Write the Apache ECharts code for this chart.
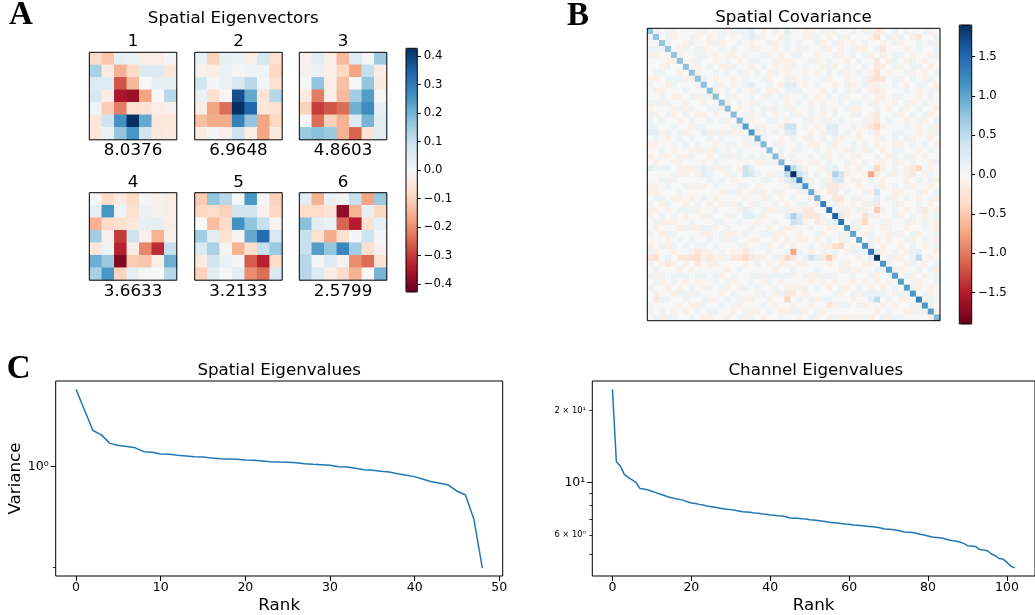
<!DOCTYPE html>
<html>
<head>
<meta charset="UTF-8">
<title>Spatial / channel eigen structure</title>
<script src="https://cdn.jsdelivr.net/npm/echarts@6.0.0/dist/echarts.min.js"></script>
<style>
  html, body { margin: 0; padding: 0; background: #fff; }
  #chart { width: 1035px; height: 615px; }
</style>
</head>
<body>
<div id="chart"></div>
<script>
// ---- data ----

// panel A: first six spatial eigenvectors (7x7, row 0 = top row)
var eigVec1 = [
  [-0.08, -0.12,  0.04,  0.03, -0.03, -0.03,  0.01],
  [ 0.14, -0.04, -0.15, -0.08,  0.06,  0.06, -0.05],
  [ 0.06,  0.06, -0.27, -0.14,  0.00,  0.04,  0.04],
  [ 0.07, -0.03, -0.35, -0.37, -0.17,  0.00,  0.12],
  [ 0.02, -0.11, -0.22, -0.07, -0.06, -0.03, -0.02],
  [-0.05,  0.09,  0.26,  0.43,  0.22, -0.05, -0.05],
  [-0.05,  0.03,  0.17,  0.25,  0.08, -0.05, -0.04]
];
var eigVec2 = [
  [ 0.03, -0.10,  0.04,  0.03, -0.03,  0.07, -0.07],
  [-0.02, -0.03,  0.03,  0.01,  0.02,  0.02, -0.09],
  [ 0.08,  0.01,  0.03,  0.07,  0.12,  0.01, -0.07],
  [ 0.03, -0.07, -0.01,  0.38,  0.22, -0.06,  0.12],
  [-0.03, -0.17, -0.24,  0.43,  0.34, -0.05, -0.07],
  [-0.13, -0.16, -0.16,  0.29,  0.17, -0.17, -0.09],
  [-0.03,  0.01, -0.03,  0.09, -0.03, -0.17, -0.04]
];
var eigVec3 = [
  [-0.02,  0.05, -0.03, -0.14,  0.06,  0.01,  0.16],
  [-0.02,  0.03, -0.03, -0.09, -0.17,  0.10, -0.03],
  [ 0.01,  0.17, -0.03, -0.13,  0.00,  0.17, -0.04],
  [-0.04, -0.22, -0.03, -0.14,  0.15,  0.24,  0.01],
  [-0.10, -0.30, -0.27, -0.24,  0.21,  0.27,  0.04],
  [ 0.01, -0.24, -0.10, -0.15,  0.06,  0.20,  0.05],
  [ 0.16,  0.18,  0.16, -0.15, -0.25, -0.06,  0.05]
];
var eigVec4 = [
  [ 0.01, -0.08, -0.04, -0.08,  0.01, -0.02, -0.03],
  [ 0.04,  0.25,  0.02, -0.07,  0.03, -0.02, -0.03],
  [-0.15, -0.08, -0.07, -0.05,  0.04,  0.04, -0.03],
  [ 0.15, -0.02, -0.30,  0.09, -0.02, -0.15, -0.02],
  [-0.05,  0.02, -0.33, -0.03, -0.21, -0.32,  0.10],
  [ 0.21,  0.16, -0.40, -0.11, -0.12, -0.03,  0.21],
  [ 0.14,  0.25, -0.10,  0.04,  0.01,  0.00,  0.12]
];
var eigVec5 = [
  [-0.11,  0.17,  0.12,  0.01,  0.25,  0.01, -0.10],
  [-0.09, -0.08, -0.10,  0.08,  0.08, -0.02, -0.09],
  [ 0.00, -0.13, -0.08,  0.26,  0.17,  0.10, -0.01],
  [ 0.15,  0.05, -0.07, -0.01,  0.22,  0.33,  0.07],
  [ 0.06,  0.14, -0.01, -0.15, -0.07,  0.10,  0.16],
  [-0.04,  0.08,  0.03,  0.01, -0.26, -0.33, -0.08],
  [-0.10,  0.05,  0.01,  0.05, -0.20, -0.24,  0.07]
];
var eigVec6 = [
  [ 0.05, -0.15,  0.03,  0.02,  0.10, -0.17,  0.16],
  [-0.08, -0.08, -0.06, -0.38, -0.15,  0.04, -0.09],
  [ 0.18,  0.05,  0.03, -0.25, -0.34, -0.07,  0.04],
  [ 0.10, -0.07, -0.16, -0.07,  0.01,  0.09,  0.01],
  [ 0.10,  0.24,  0.17,  0.28,  0.15, -0.07, -0.02],
  [ 0.12,  0.01,  0.06, -0.02, -0.20, -0.24, -0.06],
  [ 0.12,  0.06, -0.03, -0.08, -0.15,  0.00,  0.20]
];
var eigTitles = ['1', '2', '3', '4', '5', '6'];
var eigNumbers = ['8.0376', '6.9648', '4.8603', '3.6633', '3.2133', '2.5799'];
var eigRange = 0.428;
var eigTicks = [-0.4, -0.3, -0.2, -0.1, 0, 0.1, 0.2, 0.3, 0.4];

// panel B: 49x49 spatial covariance.
// diagonal kept apart; off-diagonal as codes, upper triangle ('_' = mirrored, '*' = diagonal)
var covRange = 1.9;
var covTicks = [-1.5, -1, -0.5, 0, 0.5, 1, 1.5];
var covDiag = [
  0.75, 0.75, 0.75, 0.75, 0.75, 0.78, 0.78, 0.78, 0.78, 0.8, 0.8, 0.8, 0.8, 0.8, 0.82, 0.85,
  1.05, 1.1, 0.95, 0.85, 0.82, 0.82, 0.85, 1.45, 1.9, 1.3, 1.1, 0.95, 0.9, 1.3, 1.4, 1.55,
  1.4, 1.1, 1.0, 1.0, 1.1, 1.35, 1.9, 1.1, 1.05, 1.05, 1.05, 1.05, 1.1, 1.3, 1.1, 1.05, 0.85
];
var covCode = {
  '.': 0, 'a': 0.1, 'b': 0.2, 'c': 0.3, 'd': 0.4, 'e': 0.5, 'f': 0.6,
  'A': -0.1, 'B': -0.2, 'C': -0.3, 'D': -0.4, 'E': -0.5, 'F': -0.6, 'G': -0.75
};
var covUpper = [
  '*a.aA.. .Aa..aA aaab.A. A.b..AA .aAA..a .AaBA.a .a..aA.',
  '_*.aA.. aA.A.a. A.abaA. .Aa..AA a.A.aA. ..AC.aA a.AB..a',
  '__*a..A a..AaA. .a.A..a A.a.a.. aA.aA.A .a..A.a A..a.aA',
  '___*.Aa .aA..a. a..aA.. A.a.Aa. .aA.A.a AA.aB.. .A.a..a',
  '____*A. .aa.A.A A.a..aA .A.aa.. A..aA.a .aA.A.a a.A..Aa',
  '_____*. Aa..A.a .A.aa.. AAAA..a A.a..A. a..B.Aa .Aa.A..',
  '______* .A.a.AA a..A.a. A.AA.a. .AaA.a. .a.BA.a A.aa.A.',
  '_______ *A..a.a .aA.a.A a.A..A. A.a.aA. a.AC.A. .aA.A.a',
  '_______ _*a.A.. A.a..aA ..aA.a. .aA..A. .aBCB.a A.a.Aa.',
  '_______ __*.aA. A.ab..a .Abb.A. a..A.aA .aAA..a .A.aa.A',
  '_______ ___*A.a .a.Aa.A A.aaa.. .A.a.aA a.ABA.. .a.A.aA',
  '_______ ____*.a A..a.Aa .aA..a. A.a.aA. .a.AA.a a..A.a.',
  '_______ _____*A .a.Aa.. a.A.a.A .A..a.a a.aA..A .aA.a..',
  '_______ ______* .A.a.aA a.aA..a .a.A.aA A..a.A. aA.a..A',
  '_______ _______ *.aA.a. A..aA.a .A.a..A a.AB..a A.a.aA.',
  '_______ _______ _*aA..a a.A..aA .aA.a.. .aAB.a. .A.aA.a',
  '_______ _______ __*.aA. .Add.a. A.bb..a .ABDA.. .a.A.aA',
  '_______ _______ ___*Aa. a.bc..A .Aab.a. A.aB..a a..A.Aa',
  '_______ _______ ____*a. .A.a.Aa .a.aA.. A..Aa.a .aA..A.',
  '_______ _______ _____*. aA..a.A A.aA..a .a.A..A A.a.a.A',
  '_______ _______ ______* .a.Aa.. a.A..Aa .Aa.A.a a..A.a.',
  '_______ _______ _______ *A.a..a .aA.a.A A..a.Aa .aA.A..',
  '_______ _______ _______ _*.aA.A A.a..aA .a.AA.a A.a..Aa',
  '_______ _______ _______ __*ebA. .Aab.A. A.aDA.a .ABD.A.',
  '_______ _______ _______ ___*db. a.AfdA. .AGB.aA .AB.Aa.',
  '_______ _______ _______ ____*bA .aAcc.A A.a.A.. .A.a.aA',
  '_______ _______ _______ _____*a .aBBA.. A..aA.a .aA..A.',
  '_______ _______ _______ ______* A.BB.a. .aAd..A A..aA.a',
  '_______ _______ _______ _______ *A.BB.a A..b.aA .a.A.aA',
  '_______ _______ _______ _______ _*.aA.A .AaB..a A..a.A.',
  '_______ _______ _______ _______ __*.aA. aA.EA.a .A.aB.A',
  '_______ _______ _______ _______ ___*bA. .CaA..a A.a.A.a',
  '_______ _______ _______ _______ ____*.a AD..aA. .aA.a.A',
  '_______ _______ _______ _______ _____*A a.A.Aa. .A..a.A',
  '_______ _______ _______ _______ ______* .Aa..Aa A.aA..a',
  '_______ _______ _______ _______ _______ *.aA.A. .aA.a.A',
  '_______ _______ _______ _______ _______ _*a.A.. A.a.A.a',
  '_______ _______ _______ _______ _______ __*bA.a .Aab..A',
  '_______ _______ _______ _______ _______ ___*.aA A.ae.A.',
  '_______ _______ _______ _______ _______ ____*a. .Aa.A.a',
  '_______ _______ _______ _______ _______ _____*a A..a.aA',
  '_______ _______ _______ _______ _______ ______* .aA.A.a',
  '_______ _______ _______ _______ _______ _______ *.aA..a',
  '_______ _______ _______ _______ _______ _______ _*aA.A.',
  '_______ _______ _______ _______ _______ _______ __*.aA.',
  '_______ _______ _______ _______ _______ _______ ___*Aa.',
  '_______ _______ _______ _______ _______ _______ ____*a.',
  '_______ _______ _______ _______ _______ _______ _____*A',
  '_______ _______ _______ _______ _______ _______ ______*'
];

// panel C: eigenvalue spectra (log y)
var spatialEig = [
  3.43, 2.47, 1.78, 1.66, 1.45, 1.40, 1.38, 1.35, 1.27, 1.257,
  1.224, 1.218, 1.198, 1.186, 1.173, 1.167, 1.148, 1.136, 1.130, 1.124,
  1.112, 1.106, 1.095, 1.083, 1.077, 1.072, 1.066, 1.049, 1.038, 1.032,
  1.021, 1.0, 0.995, 0.974, 0.953, 0.943, 0.928, 0.918, 0.894, 0.871,
  0.853, 0.817, 0.787, 0.767, 0.746, 0.678, 0.636, 0.432, 0.198
];
var channelEig = [
  24.6, 12.21, 11.71, 10.80, 10.49, 10.23, 9.97, 9.41, 9.38, 9.29,
  9.17, 9.05, 8.93, 8.82, 8.70, 8.62, 8.54, 8.48, 8.40, 8.29,
  8.19, 8.14, 8.08, 8.03, 7.95, 7.90, 7.85, 7.80, 7.75, 7.70,
  7.68, 7.63, 7.58, 7.53, 7.51, 7.48, 7.43, 7.41, 7.36, 7.34,
  7.29, 7.27, 7.24, 7.22, 7.17, 7.08, 7.06, 7.06, 7.03, 7.01,
  6.97, 6.95, 6.92, 6.88, 6.84, 6.79, 6.77, 6.75, 6.71, 6.68,
  6.66, 6.62, 6.60, 6.58, 6.55, 6.53, 6.51, 6.47, 6.43, 6.37,
  6.35, 6.33, 6.29, 6.25, 6.19, 6.17, 6.15, 6.11, 6.05, 6.01,
  5.95, 5.89, 5.87, 5.85, 5.81, 5.74, 5.70, 5.67, 5.61, 5.54,
  5.42, 5.40, 5.38, 5.23, 5.19, 5.16, 5.01, 4.92, 4.79, 4.76,
  4.61, 4.44, 4.37
];
var spatialXTicks = [0, 10, 20, 30, 40, 50];
var channelXTicks = [0, 20, 40, 60, 80, 100];
var spatialYMajor = [1];
var spatialYMinor = [0.2];
var spatialYLabels = {'1': '10\u2070'};
var channelYMajor = [10];
var channelYMinor = [5, 6, 7, 8, 9, 20];
var channelYMinorLabeled = [6, 20];
var channelYLabels = {'10': '10\u00b9', '6': '6 \u00d7 10\u2070', '20': '2 \u00d7 10\u00b9'};

// ---- build the option ----
var FONT = '"DejaVu Sans", sans-serif';
var rdbu = ['#67001f', '#b2182b', '#d6604d', '#f4a582', '#fddbc7', '#f7f7f7',
            '#d1e5f0', '#92c5de', '#4393c3', '#2166ac', '#053061'];
var blue = '#1f77b4';

var grids = [], xAxes = [], yAxes = [], series = [], texts = [];

function framedGrid(left, top, width, height) {
  grids.push({left: left, top: top, width: width, height: height, show: true, z: 10,
    backgroundColor: 'transparent', borderColor: '#000', borderWidth: 1});
  return grids.length - 1;
}

function addText(str, x, y, size, family, weight, align) {
  texts.push({type: 'text', x: x, y: y, silent: true, style: {
    text: str, fontSize: size, fontFamily: family || FONT, fontWeight: weight || 'normal',
    fill: '#000', align: align || 'center', textAlign: align || 'center',
    verticalAlign: 'middle', textVerticalAlign: 'middle'}});
}

function fmt1(v) {
  var s = Math.abs(v).toFixed(1);
  return v < -1e-9 ? '\u2212' + s : s;
}

function heatmap(gi, n, data) {
  var idx = [];
  for (var i = 0; i < n; i++) idx.push(i);
  xAxes.push({gridIndex: gi, type: 'category', data: idx, show: false});
  yAxes.push({gridIndex: gi, type: 'category', data: idx, inverse: true, show: false});
  series.push({type: 'heatmap', xAxisIndex: xAxes.length - 1, yAxisIndex: yAxes.length - 1,
    data: data, silent: true, progressive: 0});
}

function colorbar(left, top, width, height, range, ticks) {
  var gi = framedGrid(left, top, width, height);
  xAxes.push({gridIndex: gi, type: 'value', min: 0, max: 1, show: false});
  yAxes.push({gridIndex: gi, type: 'value', min: -range, max: range, position: 'right',
    axisLine: {show: false, onZero: false}, splitLine: {show: false},
    axisTick: {show: true, customValues: ticks, length: 3.5, lineStyle: {color: '#000', width: 1}},
    axisLabel: {customValues: ticks, margin: 6.5, fontSize: 11.7, color: '#000',
      fontFamily: FONT, formatter: fmt1}});
}

// panel A
var eigVecs = [eigVec1, eigVec2, eigVec3, eigVec4, eigVec5, eigVec6];
var eigLeft = [89.3, 194.7, 299.3], eigTop = [52.3, 192.7], eigSide = 87.5;
var eigSeries = [];
eigVecs.forEach(function (m, k) {
  var left = eigLeft[k % 3], top = eigTop[Math.floor(k / 3)];
  var gi = framedGrid(left, top, eigSide, eigSide);
  var data = [];
  m.forEach(function (row, r) {
    row.forEach(function (v, c) { data.push([c, r, v]); });
  });
  heatmap(gi, 7, data);
  eigSeries.push(series.length - 1);
  addText(eigTitles[k], left + eigSide / 2, top - 10.5, 16.7);
  addText(eigNumbers[k], left + eigSide / 2, top + eigSide + 11, 16.7);
});
colorbar(406, 48.3, 11.3, 243.7, eigRange, eigTicks);
addText('Spatial Eigenvectors', 233.3, 18.3, 16.7);
addText('A', 9, 15.5, 33, '"Liberation Serif", serif', 'bold', 'left');

// panel B
var covRows = covUpper.map(function (r) { return r.replace(/ /g, ''); });
var covData = [];
for (var i = 0; i < covDiag.length; i++) {
  for (var j = 0; j < covDiag.length; j++) {
    var v = i === j ? covDiag[i]
      : covCode[i < j ? covRows[i].charAt(j) : covRows[j].charAt(i)];
    covData.push([j, i, v]);
  }
}
var covGrid = framedGrid(647.3, 28.3, 292.7, 292.4);
heatmap(covGrid, covDiag.length, covData);
var covSeries = series.length - 1;
colorbar(959.3, 25, 12.4, 299, covRange, covTicks);
addText('Spatial Covariance', 793.5, 17.5, 16.7);
addText('B', 567, 16, 33, '"Liberation Serif", serif', 'bold', 'left');

// panel C
function logLabel(map) {
  return function (v) {
    var key = String(Math.round(v * 1000) / 1000);
    return map[key] || '';
  };
}

function spectrum(left, width, xMin, xMax, xTicks, yMin, yMax, major, minor, minorLabeled,
                  labels, values, yName) {
  var gi = framedGrid(left, 381, width, 195);
  var tickStyle = {color: '#000', width: 1};
  xAxes.push({gridIndex: gi, type: 'value', min: xMin, max: xMax,
    axisLine: {show: false, onZero: false}, splitLine: {show: false},
    axisTick: {customValues: xTicks, length: 5, lineStyle: tickStyle},
    axisLabel: {customValues: xTicks, margin: 5, fontSize: 12.5, color: '#000', fontFamily: FONT},
    name: 'Rank', nameLocation: 'middle', nameGap: 21,
    nameTextStyle: {fontSize: 16.7, color: '#000', fontFamily: FONT}});
  var xi = xAxes.length - 1;
  yAxes.push({gridIndex: gi, type: 'log', min: yMin, max: yMax, position: 'left',
    axisLine: {show: false, onZero: false}, splitLine: {show: false},
    axisTick: {customValues: major, length: 5, lineStyle: tickStyle},
    axisLabel: {customValues: major, margin: 7, fontSize: 12.5, color: '#000',
      fontFamily: FONT, formatter: logLabel(labels)},
    name: yName, nameLocation: 'middle', nameGap: 30,
    nameTextStyle: {fontSize: 16.7, color: '#000', fontFamily: FONT}});
  var yi = yAxes.length - 1;
  yAxes.push({gridIndex: gi, type: 'log', min: yMin, max: yMax, position: 'left', offset: 0,
    axisLine: {show: false, onZero: false}, splitLine: {show: false},
    axisTick: {customValues: minor, length: 3, lineStyle: {color: '#000', width: 0.8}},
    axisLabel: {show: minorLabeled.length > 0, customValues: minorLabeled.length ? minorLabeled : [yMin],
      margin: 6.5, fontSize: 8.3, color: '#000', fontFamily: FONT, formatter: logLabel(labels)}});
  series.push({type: 'line', xAxisIndex: xi, yAxisIndex: yi, showSymbol: false, silent: true,
    lineStyle: {color: blue, width: 1.5}, itemStyle: {color: blue},
    data: values.map(function (v, k) { return [k, v]; })});
}

spectrum(55.7, 447, -2.4, 50.4, spatialXTicks, 0.1748, 3.92, spatialYMajor, spatialYMinor, [],
  spatialYLabels, spatialEig, 'Variance');
spectrum(592.3, 447.7, -5.1, 107.1, channelXTicks, 4.04, 26.66, channelYMajor, channelYMinor,
  channelYMinorLabeled, channelYLabels, channelEig, '');
addText('Spatial Eigenvalues', 279.2, 370.5, 16.7);
addText('Channel Eigenvalues', 815.8, 370.5, 16.7);
addText('C', 6.7, 369, 33, '"Liberation Serif", serif', 'bold', 'left');

var chart = echarts.init(document.getElementById('chart'));
chart.setOption({
  animation: false,
  backgroundColor: '#fff',
  textStyle: {fontFamily: FONT},
  grid: grids,
  xAxis: xAxes,
  yAxis: yAxes,
  visualMap: [
    {type: 'continuous', seriesIndex: eigSeries, min: -eigRange, max: eigRange,
      inRange: {color: rdbu}, calculable: false, hoverLink: false, padding: 0, z: 1,
      left: 406, top: 48.3, itemWidth: 11.3, itemHeight: 243.7},
    {type: 'continuous', seriesIndex: [covSeries], min: -covRange, max: covRange,
      inRange: {color: rdbu}, calculable: false, hoverLink: false, padding: 0, z: 1,
      left: 959.3, top: 25, itemWidth: 12.4, itemHeight: 299}
  ],
  graphic: texts,
  series: series
});
</script>
</body>
</html>
